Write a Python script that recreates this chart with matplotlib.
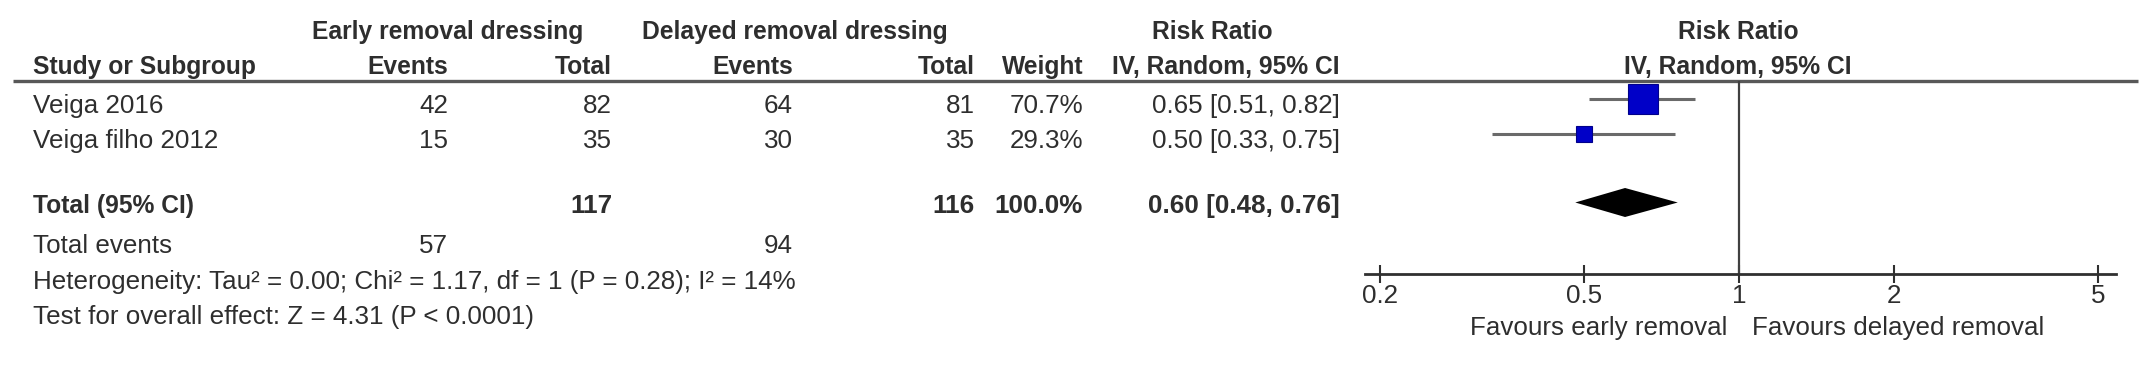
import numpy as np
import matplotlib
matplotlib.use("Agg")
import matplotlib.pyplot as plt
from matplotlib.ticker import NullLocator

plt.rcParams['font.family'] = ['Liberation Sans', 'DejaVu Sans']

# dados do forest plot
studies = ["Veiga 2016", "Veiga filho 2012"]
early_events = [42, 15]
early_total = [82, 35]
delayed_events = [64, 30]
delayed_total = [81, 35]
weights = [70.7, 29.3]
rr = [0.65, 0.50]
ci_low = [0.51, 0.33]
ci_high = [0.82, 0.75]

pooled_rr = 0.60
pooled_low = 0.48
pooled_high = 0.76
sum_early_total = 117
sum_delayed_total = 116
sum_early_events = 57
sum_delayed_events = 94
total_weight = 100.0

heterogeneity = "Heterogeneity: Tau² = 0.00; Chi² = 1.17, df = 1 (P = 0.28); I² = 14%"
overall = "Test for overall effect: Z = 4.31 (P < 0.0001)"

tick_values = [0.2, 0.5, 1, 2, 5]
tick_labels = ["0.2", "0.5", "1", "2", "5"]

W, H = 2150, 373
txt = '#2e2e2e'
fs = 18.7      # texto normal
fsb = 17.7     # cabecalho em negrito

fig = plt.figure(figsize=(W / 100, H / 100), dpi=100)

# eixo "de pixels" para a tabela
ax = fig.add_axes([0, 0, 1, 1])
ax.set_xlim(0, W)
ax.set_ylim(H, 0)
ax.axis('off')

# colunas (borda direita) e linhas (baseline)
x_left = 33
col_ee, col_et, col_de, col_dt, col_w, col_ci = 448, 612, 793, 975, 1083, 1340
row_base = [113, 148]
y_total, y_events, y_het, y_test = 213, 253, 289, 324

# cabecalho
ax.text(448, 39, "Early removal dressing", ha='center', va='baseline', fontsize=fsb, fontweight='bold', color=txt)
ax.text(795, 39, "Delayed removal dressing", ha='center', va='baseline', fontsize=fsb, fontweight='bold', color=txt)
ax.text(1212, 39, "Risk Ratio", ha='center', va='baseline', fontsize=fsb, fontweight='bold', color=txt)
ax.text(1738, 39, "Risk Ratio", ha='center', va='baseline', fontsize=fsb, fontweight='bold', color=txt)
ax.text(x_left, 74, "Study or Subgroup", ha='left', va='baseline', fontsize=fsb, fontweight='bold', color=txt)
for xc, lab in zip([col_ee, col_et, col_de, col_dt, col_w, col_ci],
                   ["Events", "Total", "Events", "Total", "Weight", "IV, Random, 95% CI"]):
    ax.text(xc, 74, lab, ha='right', va='baseline', fontsize=fsb, fontweight='bold', color=txt)
ax.text(1738, 74, "IV, Random, 95% CI", ha='center', va='baseline', fontsize=fsb, fontweight='bold', color=txt)
ax.plot([13, 2138], [81, 81], color='#585858', lw=2.4, solid_capstyle='butt')

# linhas dos estudos
for i in range(len(studies)):
    yb = row_base[i]
    ax.text(x_left, yb, studies[i], ha='left', va='baseline', fontsize=fs, color=txt)
    ax.text(col_ee, yb, str(early_events[i]), ha='right', va='baseline', fontsize=fs, color=txt)
    ax.text(col_et, yb, str(early_total[i]), ha='right', va='baseline', fontsize=fs, color=txt)
    ax.text(col_de, yb, str(delayed_events[i]), ha='right', va='baseline', fontsize=fs, color=txt)
    ax.text(col_dt, yb, str(delayed_total[i]), ha='right', va='baseline', fontsize=fs, color=txt)
    ax.text(col_w, yb, f"{weights[i]:.1f}%", ha='right', va='baseline', fontsize=fs, color=txt)
    ax.text(col_ci, yb, f"{rr[i]:.2f} [{ci_low[i]:.2f}, {ci_high[i]:.2f}]", ha='right', va='baseline', fontsize=fs, color=txt)

# total
ax.text(x_left, y_total, "Total (95% CI)", ha='left', va='baseline', fontsize=fsb, fontweight='bold', color=txt)
ax.text(col_et, y_total, str(sum_early_total), ha='right', va='baseline', fontsize=fs, fontweight='bold', color=txt)
ax.text(col_dt, y_total, str(sum_delayed_total), ha='right', va='baseline', fontsize=fs, fontweight='bold', color=txt)
ax.text(col_w, y_total, f"{total_weight:.1f}%", ha='right', va='baseline', fontsize=fs, fontweight='bold', color=txt)
ax.text(col_ci, y_total, f"{pooled_rr:.2f} [{pooled_low:.2f}, {pooled_high:.2f}]", ha='right', va='baseline', fontsize=fs, fontweight='bold', color=txt)

ax.text(x_left, y_events, "Total events", ha='left', va='baseline', fontsize=fs, color=txt)
ax.text(col_ee, y_events, str(sum_early_events), ha='right', va='baseline', fontsize=fs, color=txt)
ax.text(col_de, y_events, str(sum_delayed_events), ha='right', va='baseline', fontsize=fs, color=txt)
ax.text(x_left, y_het, heterogeneity, ha='left', va='baseline', fontsize=fs, color=txt)
ax.text(x_left, y_test, overall, ha='left', va='baseline', fontsize=fs, color=txt)

ax.text(1727, 335, "Favours early removal", ha='right', va='baseline', fontsize=fs, color=txt)
ax.text(1752, 335, "Favours delayed removal", ha='left', va='baseline', fontsize=fs, color=txt)

# forest plot (escala log)
x0, x1, y_top, y_axis = 1365, 2116, 81, 274
per_dec = 513.6
fx = fig.add_axes([x0 / W, (H - y_axis) / H, (x1 - x0) / W, (y_axis - y_top) / H])
fx.patch.set_alpha(0)
fx.set_xscale('log')
fx.set_xlim(10 ** ((x0 - 1739) / per_dec), 10 ** ((x1 - 1739) / per_dec))
fx.set_ylim(y_axis, y_top)
for s in ['top', 'left', 'right']:
    fx.spines[s].set_visible(False)
fx.spines['bottom'].set_linewidth(2.0)
fx.spines['bottom'].set_color('#303030')
fx.set_yticks([])
fx.set_xticks(tick_values)
fx.set_xticklabels(tick_labels)
fx.xaxis.set_minor_locator(NullLocator())
fx.tick_params(axis='x', direction='inout', length=13, width=1.5, pad=0.5,
               labelsize=fs, colors='#303030', labelcolor=txt)

fx.axvline(1, color='#404040', lw=1.6)

row_y = [99.5, 134.5]
for i in range(len(studies)):
    fx.plot([ci_low[i], ci_high[i]], [row_y[i], row_y[i]], color='#6a6a6a', lw=2.2, solid_capstyle='butt')
    side = 21 * (weights[i] / max(weights)) ** 0.7
    fx.plot(rr[i], row_y[i], marker='s', markersize=side, color='#0000c8',
            markeredgecolor='#00008a', markeredgewidth=0.8, linestyle='none')

yd = 202.5
fx.fill([pooled_low, pooled_rr, pooled_high, pooled_rr], [yd, yd - 14.5, yd, yd + 14.5], color='black', lw=0)

fig.savefig("out.png", dpi=100)
